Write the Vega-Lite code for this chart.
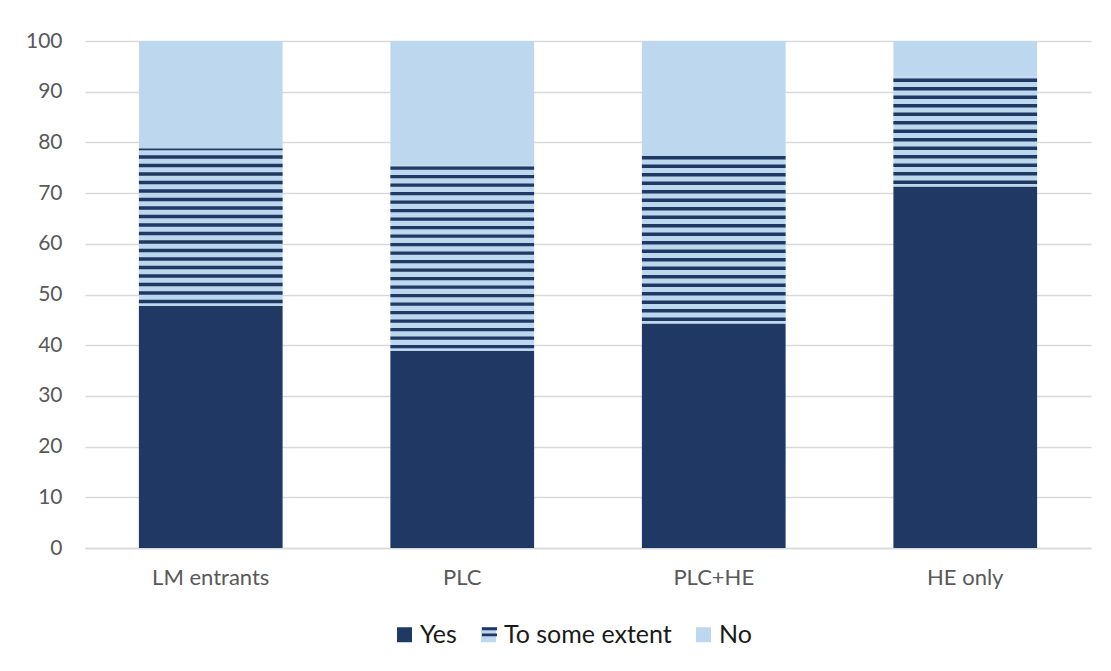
{
  "$schema": "https://vega.github.io/schema/vega-lite/v6.json",
  "width": 1006,
  "height": 507,
  "autosize": {"type": "none"},
  "padding": {"left": 85, "top": 41, "right": 20, "bottom": 123},
  "background": "#ffffff",
  "config": {
    "view": {"stroke": null},
    "font": "Lato",
    "axis": {"labelFont": "Lato", "labelColor": "#595959", "labelFontSize": 21, "ticks": false, "title": null},
    "legend": {
      "title": null,
      "orient": "none",
      "legendX": 307,
      "legendY": 581,
      "direction": "horizontal",
      "symbolSize": 225,
      "labelFont": "Lato",
      "labelFontSize": 25,
      "labelLimit": 400,
      "labelOffset": 3,
      "columnPadding": 19
    }
  },
  "data": {
    "values": [
      {"group": "LM entrants", "response": "Yes", "order": 1, "value": 47.8},
      {"group": "LM entrants", "response": "To some extent", "order": 2, "value": 31.0},
      {"group": "LM entrants", "response": "No", "order": 3, "value": 21.2},
      {"group": "PLC", "response": "Yes", "order": 1, "value": 38.9},
      {"group": "PLC", "response": "To some extent", "order": 2, "value": 36.6},
      {"group": "PLC", "response": "No", "order": 3, "value": 24.5},
      {"group": "PLC+HE", "response": "Yes", "order": 1, "value": 44.3},
      {"group": "PLC+HE", "response": "To some extent", "order": 2, "value": 33.2},
      {"group": "PLC+HE", "response": "No", "order": 3, "value": 22.5},
      {"group": "HE only", "response": "Yes", "order": 1, "value": 71.3},
      {"group": "HE only", "response": "To some extent", "order": 2, "value": 21.7},
      {"group": "HE only", "response": "No", "order": 3, "value": 7.0}
    ]
  },
  "transform": [
    {"stack": "value", "groupby": ["group"], "sort": [{"field": "order", "order": "ascending"}], "as": ["y0", "y1"]}
  ],
  "encoding": {
    "x": {
      "field": "group",
      "type": "nominal",
      "sort": ["LM entrants", "PLC", "PLC+HE", "HE only"],
      "scale": {"paddingInner": 0.4286, "paddingOuter": 0.2143},
      "axis": {"labelAngle": 0, "labelFontSize": 22, "labelPadding": 19, "domainColor": "#D9D9D9", "domainWidth": 1.5, "grid": false}
    }
  },
  "layer": [
    {
      "mark": {"type": "bar"},
      "encoding": {
        "y": {
          "field": "y0",
          "type": "quantitative",
          "scale": {"domain": [0, 100]},
          "axis": {"values": [0, 10, 20, 30, 40, 50, 60, 70, 80, 90, 100], "domain": false, "gridColor": "#D9D9D9", "gridWidth": 1.3, "labelPadding": 23}
        },
        "y2": {"field": "y1"},
        "fill": {
          "field": "response",
          "type": "nominal",
          "sort": ["Yes", "To some extent", "No"],
          "scale": {
            "domain": ["Yes", "To some extent", "No"],
            "range": ["#203864", "#BDD7EE", "#BDD7EE"]
          },
          "legend": {
            "symbolType": "square",
            "symbolStrokeWidth": 0,
            "labelColor": "#1a1a1a",
            "zindex": 1
          }
        }
      }
    },
    {
      "transform": [{"filter": "datum.response === 'To some extent'"}],
      "mark": {"type": "rule", "strokeWidth": 143.7, "strokeCap": "butt", "strokeDash": [3.4, 5.1], "strokeDashOffset": 6},
      "encoding": {
        "y": {"field": "y0", "type": "quantitative"},
        "y2": {"field": "y1"},
        "stroke": {
          "field": "response",
          "type": "nominal",
          "scale": {
            "domain": ["Yes_", "To some extent", "No_"],
            "range": ["transparent", "#203864", "transparent"]
          },
          "legend": {
            "symbolType": "M-1,-0.8H1M-1,0.02H1",
            "symbolStrokeWidth": 2.9,
            "symbolFillColor": "transparent",
            "labelExpr": "replace(datum.label, '_', '')",
            "labelColor": "transparent",
            "zindex": 2
          }
        }
      }
    }
  ]
}
